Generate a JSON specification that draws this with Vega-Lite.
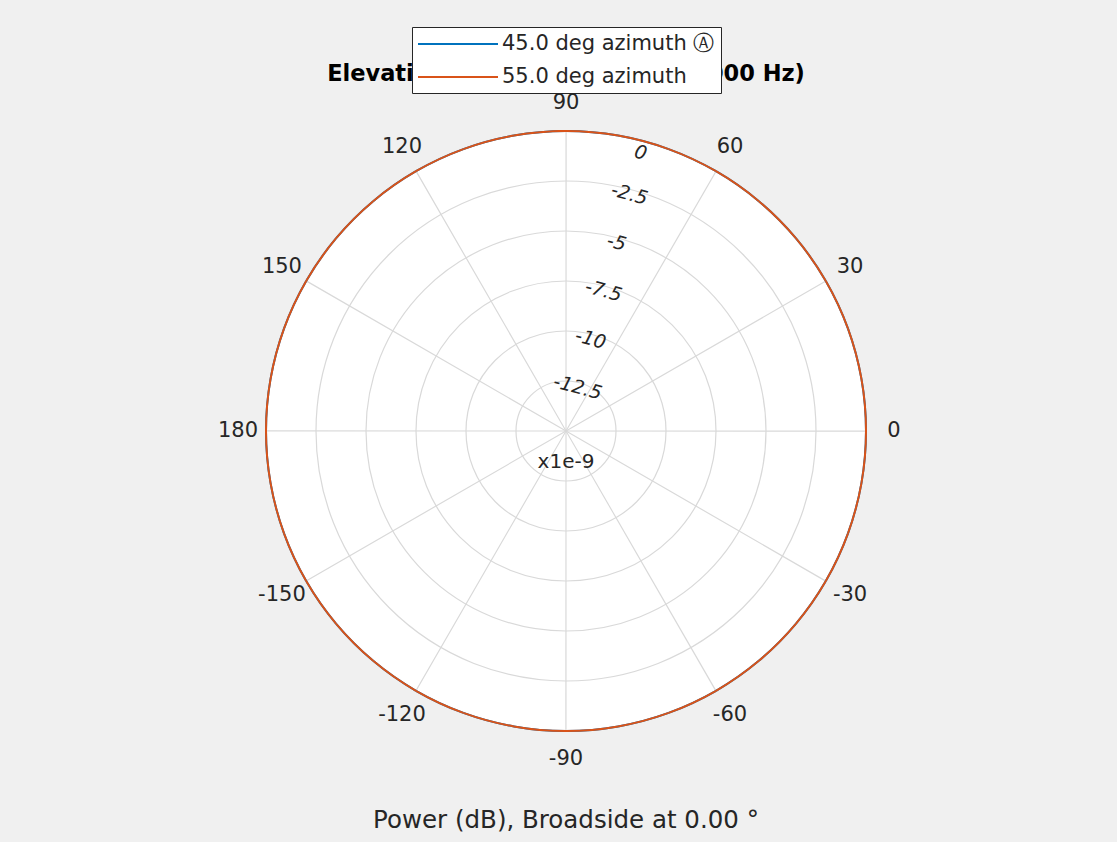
{
  "$schema": "https://vega.github.io/schema/vega-lite/v6.json",
  "width": 1102,
  "height": 822,
  "autosize": {"type": "none"},
  "padding": {"left": 15, "top": 20, "right": 0, "bottom": 0},
  "background": "#f0f0f0",
  "config": {"view": {"stroke": null}, "font": "DejaVu Sans"},
  "title": {
    "text": "Elevation Cut (frequency = 10000 Hz)",
    "font": "DejaVu Sans",
    "fontSize": 22.5,
    "fontWeight": "bold",
    "color": "#000000",
    "anchor": "middle",
    "baseline": "alphabetic",
    "offset": -83,
    "zindex": 0
  },
  "datasets": {
    "outline": [{"level": 0}],
    "rings": [{"level": -12.5}, {"level": -10}, {"level": -7.5}, {"level": -5}, {"level": -2.5}, {"level": 0}],
    "spokes": [{"angle": 0}, {"angle": 30}, {"angle": 60}, {"angle": 90}, {"angle": 120}, {"angle": 150}, {"angle": 180}, {"angle": -150}, {"angle": -120}, {"angle": -90}, {"angle": -60}, {"angle": -30}],
    "pattern": [
      {"series": "45.0 deg azimuth Ⓐ", "azimuth": 45, "angle": -180, "power": 0},
      {"series": "45.0 deg azimuth Ⓐ", "azimuth": 45, "angle": -170, "power": 0},
      {"series": "45.0 deg azimuth Ⓐ", "azimuth": 45, "angle": -160, "power": 0},
      {"series": "45.0 deg azimuth Ⓐ", "azimuth": 45, "angle": -150, "power": 0},
      {"series": "45.0 deg azimuth Ⓐ", "azimuth": 45, "angle": -140, "power": 0},
      {"series": "45.0 deg azimuth Ⓐ", "azimuth": 45, "angle": -130, "power": 0},
      {"series": "45.0 deg azimuth Ⓐ", "azimuth": 45, "angle": -120, "power": 0},
      {"series": "45.0 deg azimuth Ⓐ", "azimuth": 45, "angle": -110, "power": 0},
      {"series": "45.0 deg azimuth Ⓐ", "azimuth": 45, "angle": -100, "power": 0},
      {"series": "45.0 deg azimuth Ⓐ", "azimuth": 45, "angle": -90, "power": 0},
      {"series": "45.0 deg azimuth Ⓐ", "azimuth": 45, "angle": -80, "power": 0},
      {"series": "45.0 deg azimuth Ⓐ", "azimuth": 45, "angle": -70, "power": 0},
      {"series": "45.0 deg azimuth Ⓐ", "azimuth": 45, "angle": -60, "power": 0},
      {"series": "45.0 deg azimuth Ⓐ", "azimuth": 45, "angle": -50, "power": 0},
      {"series": "45.0 deg azimuth Ⓐ", "azimuth": 45, "angle": -40, "power": 0},
      {"series": "45.0 deg azimuth Ⓐ", "azimuth": 45, "angle": -30, "power": 0},
      {"series": "45.0 deg azimuth Ⓐ", "azimuth": 45, "angle": -20, "power": 0},
      {"series": "45.0 deg azimuth Ⓐ", "azimuth": 45, "angle": -10, "power": 0},
      {"series": "45.0 deg azimuth Ⓐ", "azimuth": 45, "angle": 0, "power": 0},
      {"series": "45.0 deg azimuth Ⓐ", "azimuth": 45, "angle": 10, "power": 0},
      {"series": "45.0 deg azimuth Ⓐ", "azimuth": 45, "angle": 20, "power": 0},
      {"series": "45.0 deg azimuth Ⓐ", "azimuth": 45, "angle": 30, "power": 0},
      {"series": "45.0 deg azimuth Ⓐ", "azimuth": 45, "angle": 40, "power": 0},
      {"series": "45.0 deg azimuth Ⓐ", "azimuth": 45, "angle": 50, "power": 0},
      {"series": "45.0 deg azimuth Ⓐ", "azimuth": 45, "angle": 60, "power": 0},
      {"series": "45.0 deg azimuth Ⓐ", "azimuth": 45, "angle": 70, "power": 0},
      {"series": "45.0 deg azimuth Ⓐ", "azimuth": 45, "angle": 80, "power": 0},
      {"series": "45.0 deg azimuth Ⓐ", "azimuth": 45, "angle": 90, "power": 0},
      {"series": "45.0 deg azimuth Ⓐ", "azimuth": 45, "angle": 100, "power": 0},
      {"series": "45.0 deg azimuth Ⓐ", "azimuth": 45, "angle": 110, "power": 0},
      {"series": "45.0 deg azimuth Ⓐ", "azimuth": 45, "angle": 120, "power": 0},
      {"series": "45.0 deg azimuth Ⓐ", "azimuth": 45, "angle": 130, "power": 0},
      {"series": "45.0 deg azimuth Ⓐ", "azimuth": 45, "angle": 140, "power": 0},
      {"series": "45.0 deg azimuth Ⓐ", "azimuth": 45, "angle": 150, "power": 0},
      {"series": "45.0 deg azimuth Ⓐ", "azimuth": 45, "angle": 160, "power": 0},
      {"series": "45.0 deg azimuth Ⓐ", "azimuth": 45, "angle": 170, "power": 0},
      {"series": "45.0 deg azimuth Ⓐ", "azimuth": 45, "angle": 180, "power": 0},
      {"series": "55.0 deg azimuth", "azimuth": 55, "angle": -180, "power": 0},
      {"series": "55.0 deg azimuth", "azimuth": 55, "angle": -170, "power": 0},
      {"series": "55.0 deg azimuth", "azimuth": 55, "angle": -160, "power": 0},
      {"series": "55.0 deg azimuth", "azimuth": 55, "angle": -150, "power": 0},
      {"series": "55.0 deg azimuth", "azimuth": 55, "angle": -140, "power": 0},
      {"series": "55.0 deg azimuth", "azimuth": 55, "angle": -130, "power": 0},
      {"series": "55.0 deg azimuth", "azimuth": 55, "angle": -120, "power": 0},
      {"series": "55.0 deg azimuth", "azimuth": 55, "angle": -110, "power": 0},
      {"series": "55.0 deg azimuth", "azimuth": 55, "angle": -100, "power": 0},
      {"series": "55.0 deg azimuth", "azimuth": 55, "angle": -90, "power": 0},
      {"series": "55.0 deg azimuth", "azimuth": 55, "angle": -80, "power": 0},
      {"series": "55.0 deg azimuth", "azimuth": 55, "angle": -70, "power": 0},
      {"series": "55.0 deg azimuth", "azimuth": 55, "angle": -60, "power": 0},
      {"series": "55.0 deg azimuth", "azimuth": 55, "angle": -50, "power": 0},
      {"series": "55.0 deg azimuth", "azimuth": 55, "angle": -40, "power": 0},
      {"series": "55.0 deg azimuth", "azimuth": 55, "angle": -30, "power": 0},
      {"series": "55.0 deg azimuth", "azimuth": 55, "angle": -20, "power": 0},
      {"series": "55.0 deg azimuth", "azimuth": 55, "angle": -10, "power": 0},
      {"series": "55.0 deg azimuth", "azimuth": 55, "angle": 0, "power": 0},
      {"series": "55.0 deg azimuth", "azimuth": 55, "angle": 10, "power": 0},
      {"series": "55.0 deg azimuth", "azimuth": 55, "angle": 20, "power": 0},
      {"series": "55.0 deg azimuth", "azimuth": 55, "angle": 30, "power": 0},
      {"series": "55.0 deg azimuth", "azimuth": 55, "angle": 40, "power": 0},
      {"series": "55.0 deg azimuth", "azimuth": 55, "angle": 50, "power": 0},
      {"series": "55.0 deg azimuth", "azimuth": 55, "angle": 60, "power": 0},
      {"series": "55.0 deg azimuth", "azimuth": 55, "angle": 70, "power": 0},
      {"series": "55.0 deg azimuth", "azimuth": 55, "angle": 80, "power": 0},
      {"series": "55.0 deg azimuth", "azimuth": 55, "angle": 90, "power": 0},
      {"series": "55.0 deg azimuth", "azimuth": 55, "angle": 100, "power": 0},
      {"series": "55.0 deg azimuth", "azimuth": 55, "angle": 110, "power": 0},
      {"series": "55.0 deg azimuth", "azimuth": 55, "angle": 120, "power": 0},
      {"series": "55.0 deg azimuth", "azimuth": 55, "angle": 130, "power": 0},
      {"series": "55.0 deg azimuth", "azimuth": 55, "angle": 140, "power": 0},
      {"series": "55.0 deg azimuth", "azimuth": 55, "angle": 150, "power": 0},
      {"series": "55.0 deg azimuth", "azimuth": 55, "angle": 160, "power": 0},
      {"series": "55.0 deg azimuth", "azimuth": 55, "angle": 170, "power": 0},
      {"series": "55.0 deg azimuth", "azimuth": 55, "angle": 180, "power": 0}
    ],
    "rlabels": [
      {"level": 0, "label": "0"},
      {"level": -2.5, "label": "-2.5"},
      {"level": -5, "label": "-5"},
      {"level": -7.5, "label": "-7.5"},
      {"level": -10, "label": "-10"},
      {"level": -12.5, "label": "-12.5"}
    ],
    "alabels": [
      {"angle": 0, "label": "0"},
      {"angle": 30, "label": "30"},
      {"angle": 60, "label": "60"},
      {"angle": 90, "label": "90"},
      {"angle": 120, "label": "120"},
      {"angle": 150, "label": "150"},
      {"angle": 180, "label": "180"},
      {"angle": -150, "label": "-150"},
      {"angle": -120, "label": "-120"},
      {"angle": -90, "label": "-90"},
      {"angle": -60, "label": "-60"},
      {"angle": -30, "label": "-30"}
    ],
    "scalenote": [{"text": "x1e-9"}],
    "caption": [{"text": "Power (dB), Broadside at 0.00 °"}]
  },
  "layer": [
    {
      "data": {"name": "outline"},
      "mark": {"type": "arc", "theta": 0, "theta2": 6.283185307179586, "fill": "#ffffff", "strokeWidth": 0},
      "encoding": {
        "radius": {"field": "level", "type": "quantitative", "stack": null, "scale": {"type": "linear", "domain": [-15, 0], "range": [0, 300], "zero": false}},
        "radius2": {"datum": -15}
      }
    },
    {
      "data": {"name": "rings"},
      "mark": {"type": "arc", "theta": 0, "theta2": 6.283185307179586, "filled": false, "stroke": "#d9d9d9", "strokeWidth": 1.2},
      "encoding": {
        "radius": {"field": "level", "type": "quantitative", "stack": null, "scale": {"type": "linear", "domain": [-15, 0], "range": [0, 300], "zero": false}},
        "radius2": {"datum": -15}
      }
    },
    {
      "data": {"name": "spokes"},
      "mark": {"type": "arc", "filled": false, "stroke": "#d9d9d9", "strokeWidth": 1.1, "theta2Offset": 0.0005},
      "encoding": {
        "theta": {"field": "angle", "type": "quantitative", "stack": null, "scale": {"type": "linear", "domain": [90, -270], "range": [0, 6.283185307179586], "zero": false}},
        "theta2": {"field": "angle"},
        "radius": {"datum": 0, "type": "quantitative", "scale": {"type": "linear", "domain": [-15, 0], "range": [0, 300], "zero": false}},
        "radius2": {"datum": -15}
      }
    },
    {
      "data": {"name": "pattern"},
      "transform": [
        {"filter": {"field": "azimuth", "equal": 45}},
        {"window": [{"op": "lead", "field": "angle", "as": "angle_next"}], "sort": [{"field": "angle", "order": "ascending"}]},
        {"filter": "datum.angle_next != null"}
      ],
      "mark": {"type": "arc", "filled": false, "strokeWidth": 2},
      "encoding": {
        "theta": {"field": "angle", "type": "quantitative", "stack": null, "scale": {"type": "linear", "domain": [90, -270], "range": [0, 6.283185307179586], "zero": false}},
        "theta2": {"field": "angle_next"},
        "radius": {"field": "power", "type": "quantitative", "stack": null, "scale": {"type": "linear", "domain": [-15, 0], "range": [0, 300], "zero": false}},
        "radius2": {"field": "power"},
        "color": {
          "field": "series",
          "type": "nominal",
          "scale": {"domain": ["45.0 deg azimuth Ⓐ", "55.0 deg azimuth"], "range": ["#0072BD", "#D95319"]},
          "legend": {
            "title": null,
            "orient": "none",
            "legendX": 397,
            "legendY": 7,
            "zindex": 1,
            "symbolType": "M-4,0L4,0",
            "symbolSize": 400,
            "symbolStrokeWidth": 2,
            "symbolOffset": 29,
            "labelOffset": 33,
            "labelFont": "DejaVu Sans",
            "labelFontSize": 21,
            "labelColor": "#262626",
            "labelLimit": 400,
            "fillColor": "#ffffff",
            "strokeColor": "#262626",
            "padding": 6,
            "rowPadding": 12,
            "cornerRadius": 0
          }
        }
      }
    },
    {
      "data": {"name": "pattern"},
      "transform": [
        {"filter": {"field": "azimuth", "equal": 55}},
        {"window": [{"op": "lead", "field": "angle", "as": "angle_next"}], "sort": [{"field": "angle", "order": "ascending"}]},
        {"filter": "datum.angle_next != null"}
      ],
      "mark": {"type": "arc", "filled": false, "strokeWidth": 2},
      "encoding": {
        "theta": {"field": "angle", "type": "quantitative", "stack": null, "scale": {"type": "linear", "domain": [90, -270], "range": [0, 6.283185307179586], "zero": false}},
        "theta2": {"field": "angle_next"},
        "radius": {"field": "power", "type": "quantitative", "stack": null, "scale": {"type": "linear", "domain": [-15, 0], "range": [0, 300], "zero": false}},
        "radius2": {"field": "power"},
        "color": {"field": "series", "type": "nominal"}
      }
    },
    {
      "data": {"name": "rlabels"},
      "transform": [{"filter": "datum.level < 0"}],
      "mark": {"type": "text", "font": "DejaVu Sans", "fontStyle": "italic", "fontSize": 19, "angle": 15, "align": "center", "baseline": "middle", "color": "#262626", "radiusOffset": -5},
      "encoding": {
        "theta": {"datum": 75, "type": "quantitative", "scale": {"type": "linear", "domain": [90, -270], "range": [0, 6.283185307179586], "zero": false}},
        "radius": {"field": "level", "type": "quantitative", "stack": null, "scale": {"type": "linear", "domain": [-15, 0], "range": [0, 300], "zero": false}},
        "text": {"field": "label", "type": "nominal"}
      }
    },
    {
      "data": {"name": "rlabels"},
      "transform": [{"filter": "datum.level == 0"}],
      "mark": {"type": "text", "font": "DejaVu Sans", "fontStyle": "italic", "fontSize": 19, "angle": 15, "align": "center", "baseline": "middle", "color": "#262626", "radiusOffset": -12},
      "encoding": {
        "theta": {"datum": 75, "type": "quantitative", "scale": {"type": "linear", "domain": [90, -270], "range": [0, 6.283185307179586], "zero": false}},
        "radius": {"field": "level", "type": "quantitative", "stack": null, "scale": {"type": "linear", "domain": [-15, 0], "range": [0, 300], "zero": false}},
        "text": {"field": "label", "type": "nominal"}
      }
    },
    {
      "data": {"name": "alabels"},
      "mark": {"type": "text", "font": "DejaVu Sans", "fontSize": 21, "align": "center", "baseline": "middle", "color": "#262626", "radiusOffset": 28},
      "encoding": {
        "theta": {"field": "angle", "type": "quantitative", "stack": null, "scale": {"type": "linear", "domain": [90, -270], "range": [0, 6.283185307179586], "zero": false}},
        "radius": {"datum": 0, "type": "quantitative", "scale": {"type": "linear", "domain": [-15, 0], "range": [0, 300], "zero": false}},
        "text": {"field": "label", "type": "nominal"}
      }
    },
    {
      "data": {"name": "scalenote"},
      "mark": {"type": "text", "font": "DejaVu Sans", "fontSize": 20, "align": "center", "baseline": "middle", "color": "#262626", "radiusOffset": 31},
      "encoding": {
        "theta": {"datum": -90, "type": "quantitative", "scale": {"type": "linear", "domain": [90, -270], "range": [0, 6.283185307179586], "zero": false}},
        "radius": {"datum": -15, "type": "quantitative", "scale": {"type": "linear", "domain": [-15, 0], "range": [0, 300], "zero": false}},
        "text": {"field": "text", "type": "nominal"}
      }
    },
    {
      "data": {"name": "caption"},
      "mark": {"type": "text", "font": "DejaVu Sans", "fontSize": 24.5, "align": "center", "baseline": "middle", "color": "#262626", "radiusOffset": 90},
      "encoding": {
        "theta": {"datum": -90, "type": "quantitative", "scale": {"type": "linear", "domain": [90, -270], "range": [0, 6.283185307179586], "zero": false}},
        "radius": {"datum": 0, "type": "quantitative", "scale": {"type": "linear", "domain": [-15, 0], "range": [0, 300], "zero": false}},
        "text": {"field": "text", "type": "nominal"}
      }
    }
  ]
}
